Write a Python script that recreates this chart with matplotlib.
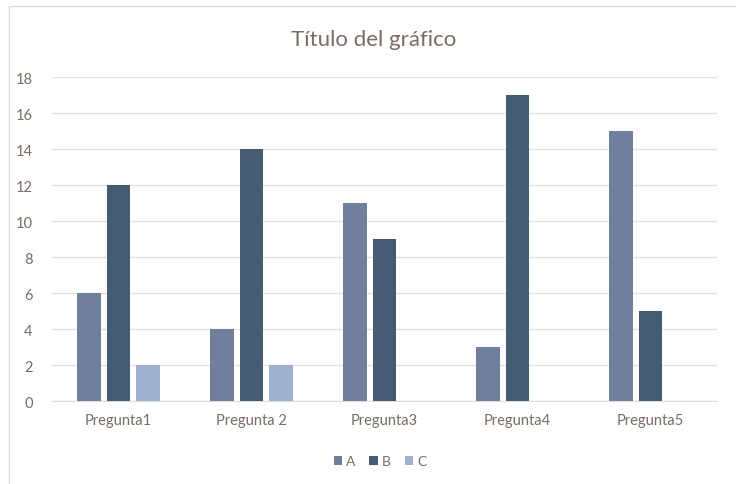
import numpy as np
import matplotlib.pyplot as plt
from matplotlib.patches import Rectangle

categorias = ['Pregunta1', 'Pregunta 2', 'Pregunta3', 'Pregunta4', 'Pregunta5']
serie_a = [6, 4, 11, 3, 15]
serie_b = [12, 14, 9, 17, 5]
serie_c = [2, 2, 0, 0, 0]

texto = '#7a6b64'
plt.rcParams['font.family'] = ['Lato', 'DejaVu Sans']

fig = plt.figure(figsize=(7.36, 4.85), dpi=100)
fig.patches.append(Rectangle((9 / 736, -0.1), 1.0, 1 - 7 / 485 + 0.1, transform=fig.transFigure,
                             fill=False, edgecolor='#d9d9d9', linewidth=1))
ax = fig.add_axes([52 / 736, 1 - 402 / 485, 665 / 736, 324 / 485])

x = np.arange(len(categorias))
w = 0.18
paso = 0.222
ax.bar(x - paso, serie_a, w, color='#6f7f9d', label='A', zorder=3)
ax.bar(x, serie_b, w, color='#435c72', label='B', zorder=3)
ax.bar(x + paso, serie_c, w, color='#a0b1cd', label='C', zorder=3)

ax.set_xlim(-0.5, 4.5)
ax.set_ylim(0, 18)
ax.set_yticks(range(0, 19, 2))
ax.grid(axis='y', color='#e5e1df', linewidth=1, zorder=0)
for s in ['top', 'right', 'left']:
    ax.spines[s].set_visible(False)
ax.spines['bottom'].set_color('#e0dcda')
ax.tick_params(length=0, colors=texto, labelsize=10.5)
ax.tick_params(axis='x', pad=9)
ax.tick_params(axis='y', pad=14)
ax.set_xticks(x)
ax.set_xticklabels(categorias)

fig.text(0.5 + 6 / 736, 1 - 40 / 485, 'Título del gráfico', ha='center', va='center',
         fontsize=16, color=texto)
fig.legend(loc='center', bbox_to_anchor=(380 / 736, 1 - 462 / 485), ncol=3, frameon=False,
           fontsize=10, labelcolor=texto, handlelength=0.6, handleheight=0.6,
           handletextpad=0.3, columnspacing=1.0)

fig.savefig('out.png', dpi=100)
